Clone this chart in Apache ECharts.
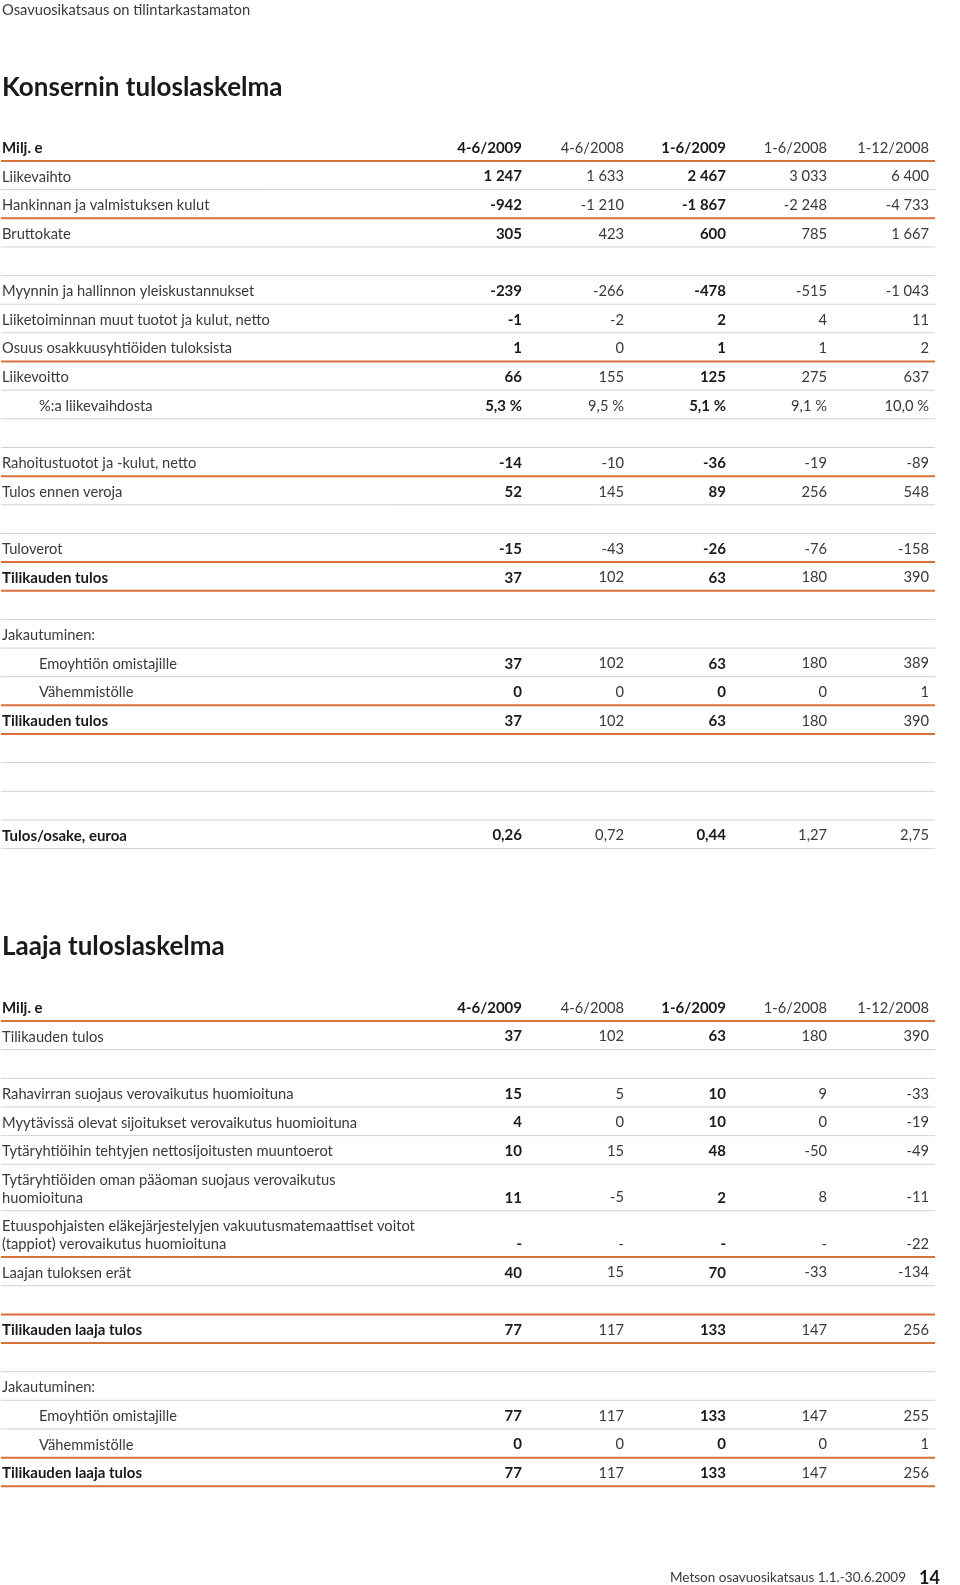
<!DOCTYPE html>
<html>
<head>
<meta charset="utf-8">
<title>Konsernin tuloslaskelma</title>
<script src="https://cdn.jsdelivr.net/npm/echarts@6/dist/echarts.min.js"></script>
<style>
html, body { margin: 0; padding: 0; background: #fff; }
#chart { width: 960px; height: 1585px; }
</style>
</head>
<body>
<div id="chart"></div>
<script>
// sarakkeet
var periods = ['4-6/2009', '4-6/2008', '1-6/2009', '1-6/2008', '1-12/2008'];

// Konsernin tuloslaskelma
var t1Labels = [
  'Liikevaihto', 'Hankinnan ja valmistuksen kulut', 'Bruttokate', '',
  'Myynnin ja hallinnon yleiskustannukset', 'Liiketoiminnan muut tuotot ja kulut, netto',
  'Osuus osakkuusyhtiöiden tuloksista', 'Liikevoitto', '%:a liikevaihdosta', '',
  'Rahoitustuotot ja -kulut, netto', 'Tulos ennen veroja', '', 'Tuloverot',
  'Tilikauden tulos', '', 'Jakautuminen:', 'Emoyhtiön omistajille', 'Vähemmistölle',
  'Tilikauden tulos', '', '', '', 'Tulos/osake, euroa'
];
var t1Q2_2009 = [1247, -942, 305, null, -239, -1, 1, 66, 5.3, null, -14, 52, null, -15, 37, null, null, 37, 0, 37, null, null, null, 0.26];
var t1Q2_2008 = [1633, -1210, 423, null, -266, -2, 0, 155, 9.5, null, -10, 145, null, -43, 102, null, null, 102, 0, 102, null, null, null, 0.72];
var t1H1_2009 = [2467, -1867, 600, null, -478, 2, 1, 125, 5.1, null, -36, 89, null, -26, 63, null, null, 63, 0, 63, null, null, null, 0.44];
var t1H1_2008 = [3033, -2248, 785, null, -515, 4, 1, 275, 9.1, null, -19, 256, null, -76, 180, null, null, 180, 0, 180, null, null, null, 1.27];
var t1FY_2008 = [6400, -4733, 1667, null, -1043, 11, 2, 637, 10.0, null, -89, 548, null, -158, 390, null, null, 389, 1, 390, null, null, null, 2.75];

// Laaja tuloslaskelma
var t2Labels = [
  'Tilikauden tulos', '',
  'Rahavirran suojaus verovaikutus huomioituna',
  'Myytävissä olevat sijoitukset verovaikutus huomioituna',
  'Tytäryhtiöihin tehtyjen nettosijoitusten muuntoerot',
  'Tytäryhtiöiden oman pääoman suojaus verovaikutus\nhuomioituna',
  'Etuuspohjaisten eläkejärjestelyjen vakuutusmatemaattiset voitot\n(tappiot) verovaikutus huomioituna',
  'Laajan tuloksen erät', '', 'Tilikauden laaja tulos', '',
  'Jakautuminen:', 'Emoyhtiön omistajille', 'Vähemmistölle', 'Tilikauden laaja tulos'
];
var t2Q2_2009 = [37, null, 15, 4, 10, 11, '-', 40, null, 77, null, null, 77, 0, 77];
var t2Q2_2008 = [102, null, 5, 0, 15, -5, '-', 15, null, 117, null, null, 117, 0, 117];
var t2H1_2009 = [63, null, 10, 10, 48, 2, '-', 70, null, 133, null, null, 133, 0, 133];
var t2H1_2008 = [180, null, 9, 0, -50, 8, '-', -33, null, 147, null, null, 147, 0, 147];
var t2FY_2008 = [390, null, -33, -19, -49, -11, -22, -134, null, 256, null, null, 255, 1, 256];

// tyylit: alareunan viiva (o = oranssi, g = harmaa), lihavoinnit, sisennykset, muodot
var t1Rules = 'goggggo' + 'gggo' + 'ggoo' + 'gggoo' + 'gggg';
var t1Bold = [14, 19, 23];
var t1Indent = [8, 17, 18];
var t1Fmt = {8: 'pct', 23: 'dec2'};
var t2Rules = 'ggggggogoogggoo';
var t2Bold = [9, 14];
var t2Indent = [12, 13];
var t2Tall = {5: 1.62, 6: 1.62};

var FONT = 'Lato';
var ORANGE = '#d9703a';
var GRAY = '#d2d2d2';
var DARK = '#1a1a1a';
var LIGHT = '#3a3a3a';
var ROW = 28.65;
var COL_R = [522, 624, 726, 827, 929];
var boldCol = [true, false, true, false, false];

function fmt(v, kind) {
  if (typeof v === 'string') return v;
  if (kind === 'pct') return v.toFixed(1).replace('.', ',') + ' %';
  if (kind === 'dec2') return v.toFixed(2).replace('.', ',');
  var s = String(Math.abs(v)).replace(/\B(?=(\d{3})+(?!\d))/g, ' ');
  return (v < 0 ? '-' : '') + s;
}

function makeTable(idx, labels, cols, rules, bolds, indents, fmts, tall) {
  var tops = [0], hs = [1], acc = 1;
  labels.forEach(function (l, i) {
    var h = tall[i] || 1;
    tops.push(acc); hs.push(h); acc += h;
  });
  var data = tops.map(function (t, i) { return [0, t, i]; });
  var series = {
    type: 'custom',
    xAxisIndex: idx,
    yAxisIndex: idx,
    encode: {x: 0, y: 1},
    data: data,
    silent: true,
    renderItem: function (params, api) {
      var i = api.value(2);
      var yTop = api.coord([0, tops[i]])[1];
      var yBot = api.coord([0, tops[i] + hs[i]])[1];
      var r = i === 0 ? 'o' : rules[i - 1];
      var kids = [{
        type: 'line',
        shape: {x1: api.coord([1, 0])[0], y1: yBot, x2: api.coord([935, 0])[0], y2: yBot},
        style: {stroke: r === 'o' ? ORANGE : GRAY, lineWidth: r === 'o' ? 2 : 1}
      }];
      var label = i === 0 ? 'Milj. e' : labels[i - 1];
      var lb = i === 0 || bolds.indexOf(i - 1) >= 0;
      var ind = i > 0 && indents.indexOf(i - 1) >= 0;
      if (label) {
        kids.push({
          type: 'text',
          x: api.coord([ind ? 39 : 2, 0])[0],
          y: yTop + 7,
          style: {
            text: label, fill: lb ? DARK : LIGHT,
            fontFamily: FONT, fontSize: lb ? 15 : 14.7, fontWeight: lb ? 700 : 400,
            lineHeight: 17.7, align: 'left', verticalAlign: 'top'
          }
        });
      }
      for (var c = 0; c < 5; c++) {
        var v = i === 0 ? periods[c] : cols[c][i - 1];
        if (v === null || v === undefined) continue;
        var txt = i === 0 ? v : fmt(v, fmts[i - 1]);
        kids.push({
          type: 'text',
          x: api.coord([COL_R[c], 0])[0],
          y: yBot - 13,
          style: {
            text: txt, fill: boldCol[c] ? DARK : LIGHT,
            fontFamily: FONT, fontSize: boldCol[c] ? 15 : 14.7, fontWeight: boldCol[c] ? 700 : 400,
            align: 'right', verticalAlign: 'middle'
          }
        });
      }
      return {type: 'group', children: kids};
    }
  };
  return {series: series, total: acc};
}

var tab1 = makeTable(0, t1Labels, [t1Q2_2009, t1Q2_2008, t1H1_2009, t1H1_2008, t1FY_2008],
  t1Rules, t1Bold, t1Indent, t1Fmt, {});
var tab2 = makeTable(1, t2Labels, [t2Q2_2009, t2Q2_2008, t2H1_2009, t2H1_2008, t2FY_2008],
  t2Rules, t2Bold, t2Indent, {}, t2Tall);

var chart = echarts.init(document.getElementById('chart'));
chart.setOption({
  animation: false,
  grid: [
    {left: 0, right: 0, top: 161 - ROW, height: tab1.total * ROW},
    {left: 0, right: 0, top: 1021 - ROW, height: tab2.total * ROW}
  ],
  xAxis: [
    {type: 'value', gridIndex: 0, min: 0, max: 960, show: false},
    {type: 'value', gridIndex: 1, min: 0, max: 960, show: false}
  ],
  yAxis: [
    {type: 'value', gridIndex: 0, min: 0, max: tab1.total, inverse: true, show: false},
    {type: 'value', gridIndex: 1, min: 0, max: tab2.total, inverse: true, show: false}
  ],
  graphic: [
    {type: 'text', x: 2, y: 10, style: {text: 'Osavuosikatsaus on tilintarkastamaton', fill: LIGHT, fontFamily: FONT, fontSize: 14.7, fontWeight: 400, verticalAlign: 'middle'}},
    {type: 'text', x: 2, y: 88, style: {text: 'Konsernin tuloslaskelma', fill: DARK, fontFamily: FONT, fontSize: 26, fontWeight: 700, verticalAlign: 'middle'}},
    {type: 'text', x: 2, y: 947, style: {text: 'Laaja tuloslaskelma', fill: DARK, fontFamily: FONT, fontSize: 26, fontWeight: 700, verticalAlign: 'middle'}},
    {type: 'text', x: 906, y: 1578, style: {text: 'Metson osavuosikatsaus 1.1.-30.6.2009', fill: LIGHT, fontFamily: FONT, fontSize: 13.5, fontWeight: 400, align: 'right', verticalAlign: 'middle'}},
    {type: 'text', x: 940, y: 1578, style: {text: '14', fill: DARK, fontFamily: FONT, fontSize: 18, fontWeight: 700, align: 'right', verticalAlign: 'middle'}}
  ],
  series: [tab1.series, tab2.series]
});
</script>
</body>
</html>
